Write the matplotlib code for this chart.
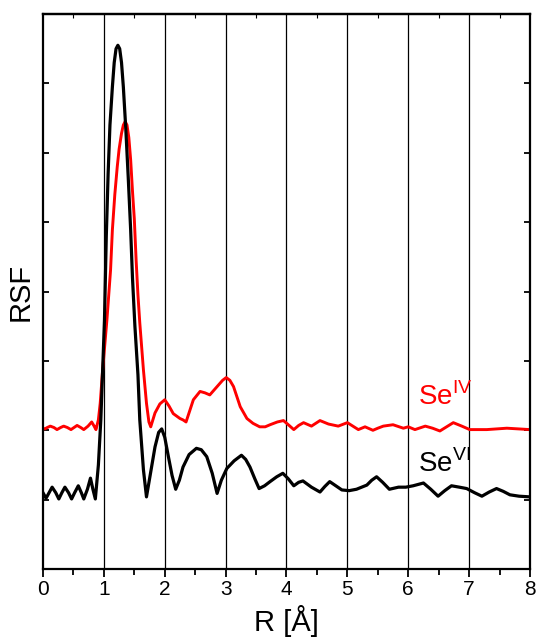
import matplotlib
matplotlib.use("Agg")
import matplotlib.pyplot as plt

plt.rcParams['font.family'] = ['Liberation Sans', 'DejaVu Sans']
plt.rcParams['mathtext.fontset'] = 'custom'
plt.rcParams['mathtext.rm'] = 'Liberation Sans'

# Se(VI) radial structure function
r_vi = [0.00, 0.05, 0.10, 0.15, 0.21, 0.26, 0.31, 0.36, 0.42, 0.47, 0.52, 0.58,
        0.63, 0.67, 0.73, 0.78, 0.82, 0.86, 0.91, 0.95, 0.98, 1.01, 1.04, 1.07,
        1.10, 1.14, 1.17, 1.20, 1.23, 1.26, 1.29, 1.32, 1.36, 1.40, 1.44, 1.47,
        1.51, 1.56, 1.59, 1.65, 1.70, 1.77, 1.84, 1.90, 1.95, 2.00, 2.06, 2.12,
        2.18, 2.24, 2.30, 2.40, 2.52, 2.60, 2.69, 2.78, 2.86, 2.93, 3.02, 3.14,
        3.26, 3.33, 3.40, 3.48, 3.55, 3.64, 3.73, 3.84, 3.94, 4.03, 4.12, 4.20,
        4.27, 4.41, 4.55, 4.63, 4.71, 4.81, 4.91, 5.03, 5.15, 5.32, 5.40, 5.48,
        5.58, 5.69, 5.84, 5.96, 6.08, 6.25, 6.37, 6.49, 6.60, 6.71, 6.84, 6.96,
        7.09, 7.21, 7.33, 7.45, 7.56, 7.67, 7.82, 8.00]
rsf_vi = [1.10, 1.02, 1.10, 1.18, 1.10, 1.01, 1.10, 1.18, 1.10, 1.01, 1.10, 1.20,
          1.10, 1.01, 1.15, 1.31, 1.15, 1.01, 1.50, 2.15, 2.87, 3.59, 4.80, 5.70,
          6.40, 6.95, 7.30, 7.50, 7.55, 7.50, 7.30, 6.95, 6.35, 5.65, 4.89, 4.20,
          3.50, 2.80, 2.15, 1.43, 1.04, 1.40, 1.76, 1.97, 2.02, 1.90, 1.62, 1.35,
          1.15, 1.28, 1.47, 1.65, 1.74, 1.72, 1.62, 1.38, 1.09, 1.28, 1.45, 1.56,
          1.64, 1.58, 1.47, 1.30, 1.16, 1.20, 1.26, 1.33, 1.38, 1.30, 1.20, 1.25,
          1.27, 1.18, 1.11, 1.19, 1.26, 1.20, 1.14, 1.13, 1.15, 1.21, 1.28, 1.33,
          1.25, 1.15, 1.18, 1.18, 1.20, 1.24, 1.15, 1.05, 1.13, 1.20, 1.18, 1.16,
          1.10, 1.05, 1.11, 1.16, 1.12, 1.07, 1.05, 1.04]

# Se(IV)
r_iv = [0.00, 0.03, 0.07, 0.12, 0.18, 0.23, 0.29, 0.34, 0.40, 0.46, 0.51, 0.56,
        0.62, 0.67, 0.74, 0.80, 0.84, 0.87, 0.91, 0.94, 0.98, 1.05, 1.11, 1.14,
        1.18, 1.22, 1.25, 1.29, 1.32, 1.35, 1.38, 1.41, 1.44, 1.47, 1.50, 1.53,
        1.56, 1.59, 1.65, 1.70, 1.74, 1.77, 1.84, 1.92, 2.00, 2.07, 2.14, 2.25,
        2.30, 2.35, 2.41, 2.47, 2.58, 2.66, 2.74, 2.88, 2.95, 3.01, 3.07, 3.13,
        3.24, 3.35, 3.45, 3.56, 3.65, 3.73, 3.85, 3.95, 4.03, 4.12, 4.20, 4.28,
        4.41, 4.55, 4.69, 4.85, 5.00, 5.09, 5.18, 5.29, 5.42, 5.50, 5.59, 5.75,
        5.92, 6.00, 6.11, 6.28, 6.40, 6.52, 6.63, 6.74, 6.88, 7.01, 7.29, 7.62,
        8.00]
rsf_iv = [2.03, 2.02, 2.04, 2.06, 2.04, 2.01, 2.04, 2.06, 2.04, 2.01, 2.04, 2.07,
          2.04, 2.01, 2.06, 2.12, 2.06, 2.01, 2.15, 2.39, 2.87, 3.59, 4.31, 4.89,
          5.40, 5.80, 6.05, 6.28, 6.40, 6.45, 6.40, 6.22, 5.90, 5.45, 5.05, 4.45,
          3.95, 3.55, 2.87, 2.39, 2.12, 2.05, 2.25, 2.38, 2.44, 2.35, 2.24, 2.17,
          2.15, 2.12, 2.28, 2.44, 2.56, 2.54, 2.51, 2.65, 2.72, 2.76, 2.72, 2.63,
          2.34, 2.17, 2.10, 2.05, 2.05, 2.08, 2.12, 2.14, 2.08, 2.01, 2.07, 2.11,
          2.06, 2.14, 2.09, 2.06, 2.11, 2.06, 2.01, 2.05, 2.00, 2.03, 2.06, 2.08,
          2.03, 2.05, 2.01, 2.06, 2.03, 1.99, 2.05, 2.11, 2.06, 2.01, 2.01, 2.03,
          2.01]

x_ticks = [0, 1, 2, 3, 4, 5, 6, 7, 8]
x_minor = [0.5, 1.5, 2.5, 3.5, 4.5, 5.5, 6.5, 7.5]

fig = plt.figure(figsize=(5.36, 6.39), dpi=100)
ax = fig.add_axes([0.0802, 0.1095, 0.9086, 0.8685])

# vertical grid lines at each integer R
for xv in x_ticks[1:-1]:
    ax.axvline(xv, color='black', lw=0.9, zorder=1)

ax.plot(r_vi, rsf_vi, color='black', lw=2.3, solid_joinstyle='round', zorder=3)
ax.plot(r_iv, rsf_iv, color='#ff0000', lw=2.1, solid_joinstyle='round', zorder=2)

ax.text(6.16, 2.36, r'Se$^{\mathrm{IV}}$', color='#ff0000', fontsize=20, va='baseline')
ax.text(6.16, 1.40, r'Se$^{\mathrm{VI}}$', color='black', fontsize=20, va='baseline')

ax.set_xlim(0, 8)
ax.set_ylim(0, 8)
ax.set_xticks(x_ticks)
ax.set_xticks(x_minor, minor=True)
ax.set_yticks(range(9))
ax.tick_params(axis='x', which='major', direction='out', length=6, width=1.3,
               labelsize=15, pad=2)
ax.tick_params(axis='x', which='minor', direction='out', length=4, width=1.3)
ax.tick_params(axis='y', which='major', direction='in', length=4, width=1.3,
               left=True, right=True, labelleft=False)
ax.set_xlabel('R [Å]', fontsize=21, labelpad=4)
ax.set_ylabel('RSF', fontsize=21, labelpad=6)
for s in ax.spines.values():
    s.set_linewidth(1.6)

# small inward ticks on the top edge
top = ax.secondary_xaxis('top')
top.set_xticks(x_minor)
top.tick_params(direction='in', length=3, width=0.8, labeltop=False)
top.spines['top'].set_linewidth(1.6)

fig.savefig('out.png', dpi=100)
